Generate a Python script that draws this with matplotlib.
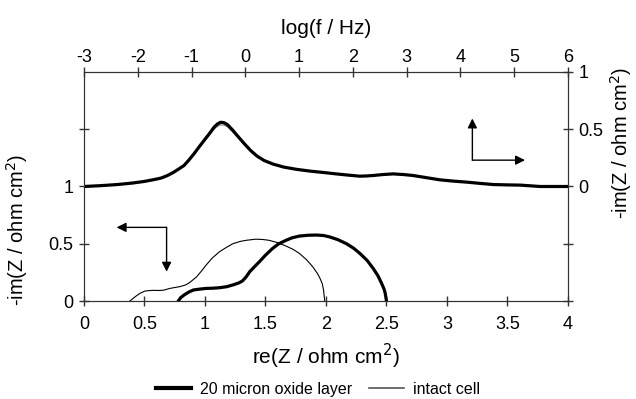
import matplotlib.pyplot as plt
from matplotlib.lines import Line2D

plt.rcParams['font.family'] = ['Liberation Sans', 'DejaVu Sans']
plt.rcParams['axes.unicode_minus'] = False

# Nyquist data (re Z, -im Z), ohm cm2
ox_re = [0.78, 0.80, 0.835, 0.87, 0.904, 0.95, 1.01, 1.07, 1.12, 1.18, 1.23, 1.28, 1.31, 1.34, 1.37, 1.41, 1.45, 1.50, 1.56, 1.61, 1.67, 1.72, 1.78, 1.85, 1.92, 1.98, 2.03, 2.10, 2.17, 2.23, 2.28, 2.34, 2.39, 2.43, 2.46, 2.48, 2.49, 2.50]
ox_im = [0.0, 0.03, 0.058, 0.08, 0.096, 0.103, 0.11, 0.112, 0.116, 0.125, 0.14, 0.158, 0.175, 0.21, 0.256, 0.30, 0.343, 0.40, 0.46, 0.50, 0.53, 0.552, 0.567, 0.574, 0.576, 0.572, 0.56, 0.535, 0.50, 0.46, 0.416, 0.355, 0.285, 0.22, 0.154, 0.105, 0.067, 0.0]
ic_re = [0.38, 0.42, 0.463, 0.504, 0.54, 0.573, 0.62, 0.656, 0.71, 0.79, 0.84, 0.876, 0.93, 0.97, 1.01, 1.06, 1.12, 1.18, 1.23, 1.29, 1.34, 1.42, 1.48, 1.53, 1.60, 1.67, 1.73, 1.78, 1.84, 1.89, 1.93, 1.95, 1.97, 1.98, 1.99]
ic_im = [0.0, 0.035, 0.067, 0.087, 0.091, 0.093, 0.092, 0.094, 0.11, 0.125, 0.14, 0.163, 0.21, 0.26, 0.314, 0.375, 0.43, 0.47, 0.50, 0.52, 0.53, 0.54, 0.537, 0.53, 0.51, 0.48, 0.45, 0.416, 0.36, 0.30, 0.24, 0.20, 0.15, 0.096, 0.0]

# Bode data (log f, -im Z)
ox_lf = [-3.0, -2.7, -2.38, -2.1, -1.88, -1.70, -1.57, -1.45, -1.33, -1.24, -1.14, -1.05, -0.955, -0.86, -0.77, -0.67, -0.58, -0.52, -0.46, -0.40, -0.33, -0.24, -0.15, -0.03, 0.10, 0.22, 0.35, 0.52, 0.72, 0.95, 1.21, 1.42, 1.65, 1.90, 2.13, 2.25, 2.38, 2.55, 2.75, 2.95, 3.12, 3.37, 3.62, 3.87, 4.12, 4.37, 4.61, 4.86, 5.11, 5.30, 5.48, 5.75, 6.0]
ox_bd = [0.0, 0.007, 0.017, 0.03, 0.044, 0.06, 0.073, 0.095, 0.125, 0.152, 0.183, 0.23, 0.285, 0.345, 0.40, 0.46, 0.518, 0.545, 0.561, 0.558, 0.54, 0.495, 0.445, 0.38, 0.314, 0.265, 0.227, 0.195, 0.169, 0.15, 0.134, 0.124, 0.112, 0.10, 0.09, 0.092, 0.096, 0.104, 0.11, 0.104, 0.096, 0.077, 0.058, 0.047, 0.038, 0.027, 0.017, 0.014, 0.012, 0.006, 0.0, 0.0, 0.0]
ic_lf = ox_lf
ic_bd = [0.0, 0.007, 0.017, 0.03, 0.044, 0.06, 0.073, 0.095, 0.125, 0.152, 0.183, 0.228, 0.28, 0.338, 0.39, 0.448, 0.50, 0.525, 0.538, 0.536, 0.52, 0.48, 0.435, 0.374, 0.31, 0.262, 0.225, 0.193, 0.168, 0.149, 0.133, 0.123, 0.111, 0.099, 0.089, 0.091, 0.095, 0.103, 0.109, 0.103, 0.095, 0.076, 0.057, 0.046, 0.037, 0.026, 0.017, 0.014, 0.012, 0.006, 0.0, 0.0, 0.0]

grey = '#333333'
fig = plt.figure(figsize=(6.36, 3.99), dpi=100)
pos = [0.132, 0.2456, 0.761, 0.574]
ax = fig.add_axes(pos)
ax.plot(ox_re, ox_im, color='black', lw=2.3)
ax.plot(ic_re, ic_im, color='black', lw=0.8)
ax.set_xlim(0, 4)
ax.set_ylim(0, 2)
ax.set_xticks([0, 0.5, 1, 1.5, 2, 2.5, 3, 3.5, 4])
ax.set_xticklabels(['0', '0.5', '1', '1.5', '2', '2.5', '3', '3.5', '4'])
ax.set_yticks([0, 0.5, 1, 1.5])
ax.set_yticklabels(['0', '0.5', '1', ''])
ax.set_xlabel('re(Z / ohm cm$^2$)', fontsize=15)
ax.set_ylabel('-im(Z / ohm cm$^2$)', fontsize=14.5)
ax.xaxis.set_label_coords(0.5, -0.18)
ax.yaxis.set_label_coords(-0.112, 0.31)

ax2 = fig.add_axes(pos, label='bode')
ax2.patch.set_visible(False)
ax2.plot(ic_lf, ic_bd, color='#777777', lw=0.8)
ax2.plot(ox_lf, ox_bd, color='black', lw=2.3)
ax2.set_xlim(-3, 6)
ax2.set_ylim(-1, 1)
ax2.xaxis.tick_top()
ax2.xaxis.set_label_position('top')
ax2.yaxis.tick_right()
ax2.yaxis.set_label_position('right')
ax2.set_xticks(range(-3, 7))
ax2.set_yticks([-1, -0.5, 0, 0.5, 1])
ax2.set_yticklabels(['', '', '0', '0.5', '1'])
ax2.set_xlabel('log(f / Hz)', fontsize=15)
ax2.set_ylabel('-im(Z / ohm cm$^2$)', fontsize=14.5)
ax2.xaxis.set_label_coords(0.5, 1.165)
ax2.yaxis.set_label_coords(1.083, 0.69)

for a in (ax, ax2):
    for s in a.spines.values():
        s.set_color(grey)
    a.tick_params(direction='inout', length=7, width=1, colors=grey,
                  labelcolor='black', labelsize=13, pad=4)
ax.tick_params(axis='x', pad=7.5)
ax2.tick_params(axis='x', pad=1)

# arrows pointing to the relevant axes
akw = dict(arrowstyle='-|>', color='black', lw=1, mutation_scale=14, shrinkA=0, shrinkB=0)
ax.annotate('', xy=(0.27, 0.643), xytext=(0.683, 0.643), arrowprops=akw)
ax.annotate('', xy=(0.683, 0.256), xytext=(0.683, 0.643), arrowprops=akw)
ax.annotate('', xy=(3.21, 1.594), xytext=(3.21, 1.23), arrowprops=akw)
ax.annotate('', xy=(3.645, 1.23), xytext=(3.21, 1.23), arrowprops=akw)

handles = [Line2D([], [], color='black', lw=3), Line2D([], [], color='#555555', lw=1.2)]
fig.legend(handles, ['20 micron oxide layer', 'intact cell'], loc='center',
           bbox_to_anchor=(0.5, 0.025), ncol=2, frameon=False, fontsize=11.5,
           handlelength=2.2, columnspacing=1.0, handletextpad=0.6)

fig.savefig('out.png', dpi=100)
